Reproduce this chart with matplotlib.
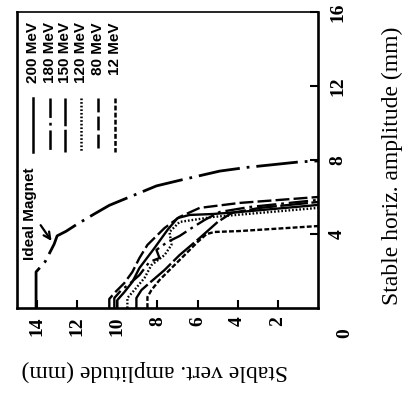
import matplotlib
matplotlib.use("Agg")
import matplotlib.pyplot as plt

plt.rcParams['lines.scale_dashes'] = False

# ---- data (vertical amplitude, horizontal amplitude) in mm ----
ideal_vert = [14.05, 14.05, 13.6, 13.15, 13.0, 12.55, 12.05, 11.2, 10.4, 8.05, 6.9, 4.9, 3.55, 0.9, 0.0]
ideal_horiz = [0, 1.95, 2.5, 3.45, 3.9, 4.15, 4.5, 5.05, 5.55, 6.6, 6.9, 7.4, 7.6, 7.9, 7.95]

labels = ["200 MeV", "180 MeV", "150 MeV", "120 MeV", "80 MeV", "12 MeV"]

vert_200 = [10.0, 10.0, 9.65, 9.25, 8.9, 8.15, 7.5, 7.0, 6.4, 5.25, 3.9, 0]
horiz_200 = [0, 0.43, 0.86, 1.41, 2.16, 3.24, 4.22, 4.86, 5.03, 5.08, 5.19, 5.57]

vert_180 = [10.15, 10.15, 9.8, 9.4, 8.9, 8.4, 7.9, 8.05, 7.5, 6.9, 6.3, 5.65, 4.9, 3.4, 0]
horiz_180 = [0, 0.54, 0.97, 1.3, 1.78, 2.49, 2.7, 3.14, 3.57, 3.89, 4.32, 4.76, 5.19, 5.46, 5.84]

vert_150 = [9.05, 9.05, 8.8, 8.4, 7.65, 6.9, 5.9, 5.0, 4.3, 2.9, 0]
horiz_150 = [0, 0.54, 0.97, 1.35, 2.05, 2.86, 3.78, 4.65, 5.14, 5.41, 5.73]

vert_120 = [9.5, 9.5, 9.15, 8.65, 8.3, 7.65, 7.3, 7.4, 6.9, 5.25, 2.9, 0]
horiz_120 = [0, 0.54, 0.97, 1.62, 2.32, 2.86, 3.41, 4.11, 4.65, 4.92, 5.14, 5.41]

vert_80 = [10.4, 10.4, 10.1, 9.65, 9.25, 8.9, 8.5, 7.65, 6.9, 5.9, 3.9, 0]
horiz_80 = [0, 0.49, 0.86, 1.35, 1.95, 2.7, 3.41, 4.32, 4.92, 5.41, 5.68, 6.0]

vert_12 = [8.5, 8.5, 8.3, 7.9, 7.3, 6.65, 6.0, 5.55, 5.15, 3.9, 0]
horiz_12 = [0, 0.59, 0.97, 1.51, 2.16, 2.86, 3.57, 4.0, 4.11, 4.16, 4.43]

vert_ticks = [14, 12, 10, 8, 6, 4, 2]
horiz_ticks = [4, 8, 12, 16]

series_vert = [vert_200, vert_180, vert_150, vert_120, vert_80, vert_12]
series_horiz = [horiz_200, horiz_180, horiz_150, horiz_120, horiz_80, horiz_12]

styles = [
    '-',
    (0, (14, 3.5, 2, 3.5)),
    (0, (20, 2.5)),
    (0, (1.2, 1.4)),
    (0, (10, 3)),
    (0, (3.5, 1.6)),
]

serif = ['Liberation Serif', 'DejaVu Serif']
sans = ['Liberation Sans', 'DejaVu Sans']

fig = plt.figure(figsize=(4.18, 3.95), dpi=100)
ax = fig.add_axes([17/418, 1-308/395, 301/418, 296/395])

ax.set_xlim(15, 0)
ax.set_ylim(0, 16)

# ideal magnet curve
ax.plot(ideal_vert, ideal_horiz, color='black', lw=2.0,
        linestyle=(0, (30, 5, 2, 5)), solid_capstyle='butt')

for v, h, ls in zip(series_vert, series_horiz, styles):
    ax.plot(v, h, color='black', lw=1.7, linestyle=ls)

# legend drawn rotated
leg_x = [0.053, 0.110, 0.159, 0.213, 0.269, 0.326]
for lab, ls, xf in zip(labels, styles, leg_x):
    ax.text(xf, 0.966, lab, rotation=90, ha='center', va='top',
            transform=ax.transAxes, fontsize=11, fontweight='bold', family=sans)
    ax.plot([xf, xf], [0.709, 0.527], transform=ax.transAxes,
            color='black', lw=1.8, linestyle=ls)

# Ideal magnet label and arrow
ax.text(14.35, 5.1, "Ideal Magnet", rotation=90, ha='center', va='center',
        fontsize=11, fontweight='bold', family=sans)
ax.annotate("", xy=(13.2, 3.5), xytext=(13.9, 4.6),
            arrowprops=dict(arrowstyle='->', color='black', lw=1.6,
                            mutation_scale=12))

# spines
for s in ['left', 'bottom', 'right']:
    ax.spines[s].set_linewidth(1.9)
ax.spines['top'].set_linewidth(1.2)

ax.set_xticks(vert_ticks)
ax.set_xticklabels([str(t) for t in vert_ticks])
ax.yaxis.tick_right()
ax.set_yticks(horiz_ticks)
ax.set_yticklabels([str(t) for t in horiz_ticks])
ax.tick_params(axis='x', direction='in', length=6, width=1.5, pad=6,
               labelrotation=90, labelsize=14)
ax.tick_params(axis='y', direction='in', length=6, width=1.5, pad=14,
               labelrotation=90, labelsize=14)
for lab in ax.get_xticklabels() + ax.get_yticklabels():
    lab.set_family(serif)
    lab.set_fontweight('bold')
for lab in ax.get_yticklabels():
    lab.set_ha('center')
    lab.set_va('center')

# shared corner zero
ax.text(1.09, -0.084, "0", rotation=90, ha='center', va='center',
        transform=ax.transAxes, fontsize=14, fontweight='bold', family=serif)

# axis labels
ax.text(0.458, -0.21, "Stable vert. amplitude (mm)", rotation=180,
        ha='center', va='center', transform=ax.transAxes,
        fontsize=17, family=serif)
ax.text(1.246, 0.48, "Stable horiz. amplitude (mm)", rotation=90,
        ha='center', va='center', transform=ax.transAxes,
        fontsize=17, family=serif)

fig.savefig("out.png", dpi=100)
